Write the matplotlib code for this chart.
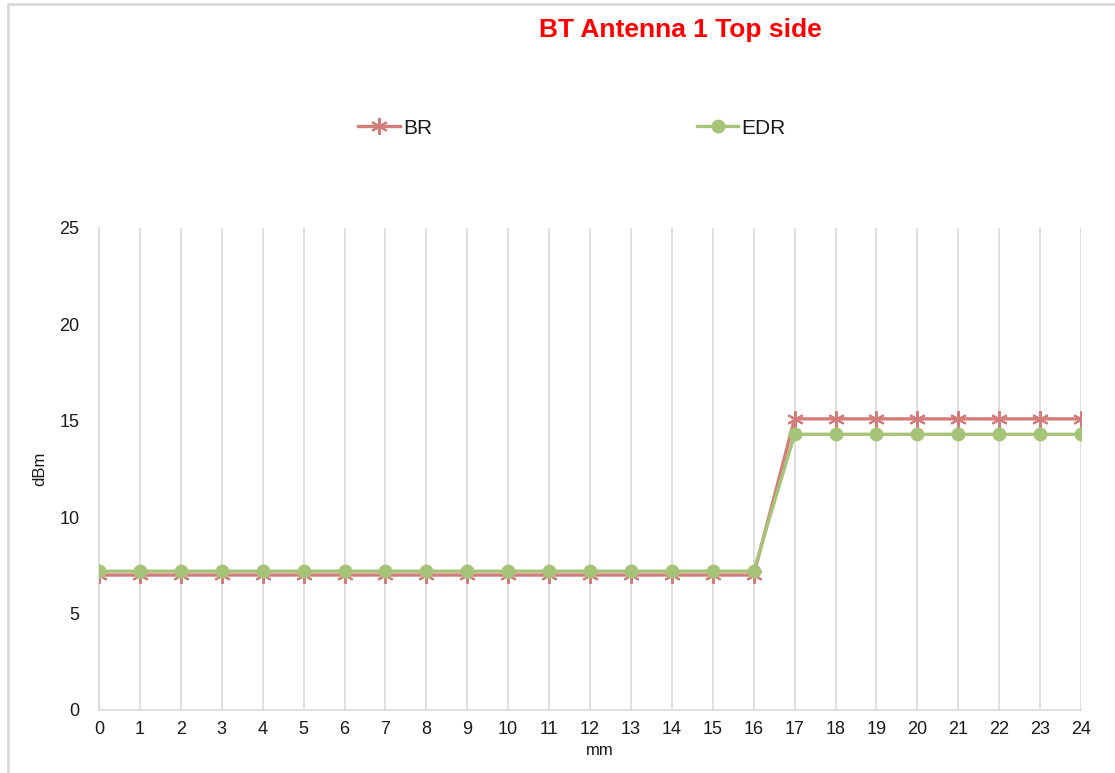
import matplotlib.pyplot as plt
from matplotlib.patches import Rectangle

plt.rcParams['font.family'] = ['Liberation Sans', 'DejaVu Sans']

mm = list(range(25))
br = [7.0] * 17 + [15.1] * 8
edr = [7.2] * 17 + [14.3] * 8

br_color = '#d47c7a'
edr_color = '#a5c477'
grid_color = '#d9d9d9'

fig = plt.figure(figsize=(11.15, 7.73), dpi=100)
ax = fig.add_axes([99 / 1115, 1 - 710 / 773, (1081 - 99) / 1115, (710 - 228) / 773])

# chart border like the Excel chart area
fig.patches.append(Rectangle((8 / 1115, -0.1), 1.2, 1 - 4 / 773 + 0.1, transform=fig.transFigure,
                             fill=False, edgecolor='#d9d9d9', linewidth=2))

ax.plot(mm, br, color=br_color, lw=2.4, marker=(6, 2, 0), markersize=12,
        markeredgewidth=1.5, label='BR', zorder=3)
ax.plot(mm, edr, color=edr_color, lw=2.4, marker='o', markersize=10,
        markeredgewidth=0, label='EDR', zorder=4)

ax.set_xlim(0, 24)
ax.set_ylim(0, 25)
ax.set_xticks(mm)
ax.set_yticks([0, 5, 10, 15, 20, 25])
ax.tick_params(length=0, labelsize=13, pad=8, labelcolor='#1a1a1a')
ax.tick_params(axis='y', pad=14)
ax.grid(axis='x', color=grid_color, lw=1.2)
for side in ['top', 'right']:
    ax.spines[side].set_visible(False)
ax.spines['left'].set_color(grid_color)
ax.spines['bottom'].set_color(grid_color)
ax.spines['left'].set_linewidth(1.2)
ax.spines['bottom'].set_linewidth(1.2)

ax.set_xlabel('mm', fontsize=12, color='#1a1a1a')
ax.xaxis.set_label_coords(501 / 982, -33 / 482)
ax.set_ylabel('dBm', fontsize=12, color='#1a1a1a')
ax.yaxis.set_label_coords(-52 / 982, 0.5)

fig.text(680 / 1115, 1 - 30 / 773, 'BT Antenna 1 Top side', color='red', fontsize=19,
         fontweight='bold', ha='center', va='center')

fig.legend(loc='center', bbox_to_anchor=(572 / 1115, 1 - 128 / 773), ncol=2, frameon=False,
           fontsize=15, columnspacing=12.7, handlelength=2.0, handletextpad=0.15,
           labelcolor='#1a1a1a')

fig.savefig('out.png', dpi=100)
